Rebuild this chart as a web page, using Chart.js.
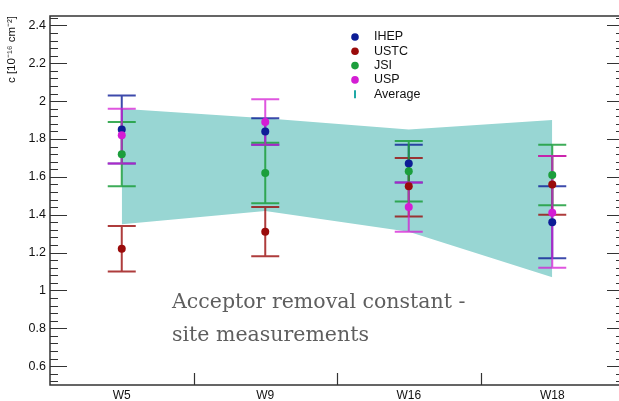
<!DOCTYPE html>
<html>
<head>
<meta charset="utf-8">
<script src="https://cdn.jsdelivr.net/npm/chart.js@4.4.1/dist/chart.umd.min.js"></script>
<style>
  html, body { margin: 0; padding: 0; background: #fff; overflow: hidden; }
  #wrap { width: 619px; height: 401px; overflow: hidden; position: relative; }
  #c { position: absolute; left: 0; top: 0; }
</style>
</head>
<body>
<div id="wrap"><canvas id="c" width="628" height="401"></canvas></div>
<script>
// wafer categories and y tick labels
const categories = ['W5', 'W9', 'W16', 'W18'];
const yTicks = [0.6, 0.8, 1, 1.2, 1.4, 1.6, 1.8, 2, 2.2, 2.4];

// per-site measurements (value, upper and lower end of error bar)
const ihep = [1.85, 1.84, 1.67, 1.36];
const ihepHi = [2.03, 1.91, 1.77, 1.55];
const ihepLo = [1.67, 1.77, 1.57, 1.17];

const ustc = [1.22, 1.31, 1.55, 1.56];
const ustcHi = [1.34, 1.44, 1.70, 1.71];
const ustcLo = [1.10, 1.18, 1.39, 1.40];

const jsi = [1.72, 1.62, 1.63, 1.61];
const jsiHi = [1.89, 1.78, 1.79, 1.77];
const jsiLo = [1.55, 1.46, 1.47, 1.45];

const usp = [1.82, 1.89, 1.44, 1.41];
const uspHi = [1.96, 2.01, 1.57, 1.71];
const uspLo = [1.67, 1.77, 1.31, 1.12];

// average band
const avgHi = [1.96, 1.91, 1.85, 1.90];
const avgLo = [1.35, 1.42, 1.31, 1.07];

const bandColor = '#98d6d3';
const avgColor = '#1fa9a6';

const series = [
    { label: 'IHEP', data: ihep, hi: ihepHi, lo: ihepLo, color: '#0d1d96', bar: 'rgba(13, 29, 150, 0.8)' },
    { label: 'USTC', data: ustc, hi: ustcHi, lo: ustcLo, color: '#9a0b0b', bar: 'rgba(154, 11, 11, 0.8)' },
    { label: 'JSI', data: jsi, hi: jsiHi, lo: jsiLo, color: '#1c9e3c', bar: 'rgba(28, 158, 60, 0.85)' },
    { label: 'USP', data: usp, hi: uspHi, lo: uspLo, color: '#d41dd4', bar: 'rgba(212, 29, 212, 0.75)' }
];

Chart.defaults.font.family = '"Liberation Sans", Arial, sans-serif';
Chart.defaults.color = '#111';

/**
 * Error bars, drawn right after the band so the points sit on top
 */
const errorBars = {
    id: 'errorBars',
    afterDatasetDraw(chart, args) {
        if (args.index !== 1) return;
        const { ctx: c, scales: { x, y } } = chart;
        c.save();
        c.lineWidth = 2;
        chart.data.datasets.forEach(ds => {
            if (!ds.errHi) return;
            c.strokeStyle = ds.barColor;
            ds.errHi.forEach((hi, i) => {
                const px = x.getPixelForValue(i);
                const yh = y.getPixelForValue(hi);
                const yl = y.getPixelForValue(ds.errLo[i]);
                c.beginPath();
                c.moveTo(px, yh); c.lineTo(px, yl);
                c.moveTo(px - 14, yh); c.lineTo(px + 14, yh);
                c.moveTo(px - 14, yl); c.lineTo(px + 14, yl);
                c.stroke();
            });
        });
        c.restore();
    }
};

/**
 * Box frame with inward tick marks
 */
const frame = {
    id: 'frame',
    afterDraw(chart) {
        const { ctx: c, chartArea: a, scales: { x, y } } = chart;
        c.save();
        c.strokeStyle = '#333';
        c.lineWidth = 1.5;
        c.strokeRect(a.left, a.top, a.right - a.left, a.bottom - a.top);
        c.lineWidth = 1.2;
        c.beginPath();
        yTicks.forEach(v => {
            const py = Math.round(y.getPixelForValue(v)) + 0.5;
            c.moveTo(a.left, py); c.lineTo(a.left + 17, py);
            c.moveTo(a.right, py); c.lineTo(a.right - 17, py);
        });
        // minor ticks every 0.04
        for (let k = 13; k <= 61; k++) {
            if (k % 5 === 0) continue;
            const py = Math.round(y.getPixelForValue(k * 0.04)) + 0.5;
            c.moveTo(a.left, py); c.lineTo(a.left + 8, py);
            c.moveTo(a.right, py); c.lineTo(a.right - 8, py);
        }
        for (let i = 0; i < categories.length - 1; i++) {
            const px = Math.round((x.getPixelForValue(i) + x.getPixelForValue(i + 1)) / 2) + 0.5;
            c.moveTo(px, a.bottom); c.lineTo(px, a.bottom - 12);
        }
        c.stroke();
        c.restore();
    }
};

/**
 * Legend box inside the plot, plus the slide caption
 */
const extras = {
    id: 'extras',
    afterDraw(chart) {
        const c = chart.ctx;
        c.save();
        c.font = '12.5px "Liberation Sans", Arial, sans-serif';
        c.textBaseline = 'middle';
        c.fillStyle = '#111';
        const lx = 355, tx = 374, ly = 37, step = 14.3;
        series.forEach((s, i) => {
            c.fillStyle = s.color;
            c.beginPath();
            c.arc(lx, ly + i * step, 3.8, 0, Math.PI * 2);
            c.fill();
            c.fillStyle = '#111';
            c.fillText(s.label, tx, ly + i * step);
        });
        const ay = ly + series.length * step;
        c.strokeStyle = avgColor;
        c.lineWidth = 2;
        c.beginPath();
        c.moveTo(lx, ay - 4); c.lineTo(lx, ay + 4);
        c.stroke();
        c.fillText('Average', tx, ay);

        c.fillStyle = '#5e5e5e';
        c.textBaseline = 'alphabetic';
        c.font = '20.5px "DejaVu Serif", serif';
        c.fillText('Acceptor removal constant -', 172, 308);
        c.fillText('site measurements', 172, 341);
        c.restore();
    }
};

new Chart(document.getElementById('c'), {
    type: 'line',
    data: {
        labels: categories,
        datasets: [
            {
                label: 'Average hi',
                data: avgHi,
                borderWidth: 0,
                borderColor: 'transparent',
                pointRadius: 0,
                fill: false,
                order: 10
            },
            {
                label: 'Average lo',
                data: avgLo,
                borderWidth: 0,
                borderColor: 'transparent',
                backgroundColor: bandColor,
                pointRadius: 0,
                fill: '-1',
                order: 9
            },
            ...series.map((s, i) => ({
                label: s.label,
                data: s.data,
                errHi: s.hi,
                errLo: s.lo,
                barColor: s.bar,
                showLine: false,
                pointRadius: 4,
                pointBorderWidth: 0,
                pointBackgroundColor: s.color,
                borderColor: s.color,
                order: 4 - i
            }))
        ]
    },
    options: {
        responsive: false,
        animation: false,
        layout: { padding: { top: 16, right: 2, left: 0, bottom: 0 } },
        plugins: {
            legend: { display: false },
            tooltip: { enabled: false }
        },
        scales: {
            x: {
                type: 'category',
                offset: true,
                grid: { display: false, drawTicks: false },
                border: { display: false },
                ticks: { font: { size: 12 }, padding: 3, maxRotation: 0 },
                afterFit: (s) => { s.height = 16; }
            },
            y: {
                min: 0.5,
                max: 2.45,
                grid: { display: false, drawTicks: false },
                border: { display: false },
                afterBuildTicks: (s) => { s.ticks = yTicks.map(v => ({ value: v })); },
                ticks: {
                    font: { size: 12.5 },
                    padding: 4,
                    callback: (v) => String(+Number(v).toFixed(2))
                },
                title: {
                    display: true,
                    text: 'c [10⁻¹⁶ cm⁻²]',
                    align: 'end',
                    font: { size: 11.5 },
                    padding: { top: 5, bottom: 0 }
                },
                afterFit: (s) => { s.width = 50; }
            }
        }
    },
    plugins: [errorBars, frame, extras]
});
</script>
</body>
</html>
